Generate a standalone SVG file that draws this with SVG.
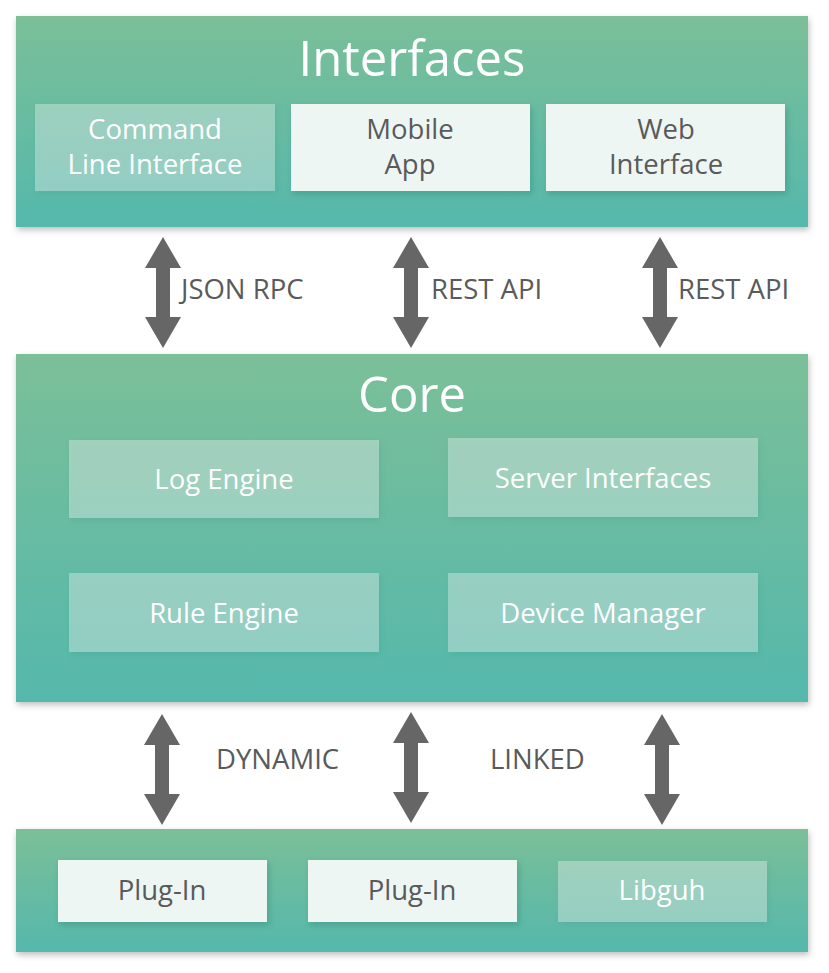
<svg xmlns="http://www.w3.org/2000/svg" width="829" height="973" viewBox="0 0 829 973">
<defs>
<linearGradient id="pg" x1="0" y1="0" x2="0" y2="1">
<stop offset="0" stop-color="#7bbf98"/>
<stop offset="1" stop-color="#55b8ac"/>
</linearGradient>
<filter id="sh" x="-5%" y="-10%" width="110%" height="125%">
<feDropShadow dx="1" dy="3" stdDeviation="3" flood-color="#000" flood-opacity="0.25"/>
</filter>
<filter id="bs" x="-10%" y="-20%" width="120%" height="150%">
<feDropShadow dx="2" dy="3" stdDeviation="3" flood-color="#1d6b5a" flood-opacity="0.3"/>
</filter>
<path id="arr" d="M0,0 L18,31 L7,31 L7,80 L18,80 L0,111 L-18,80 L-7,80 L-7,31 L-18,31 Z"/>
</defs>
<style>
.panel{fill:url(#pg);filter:url(#sh)}
.lb{fill:#ffffff;fill-opacity:0.32;filter:url(#bs)}
.wb{fill:#eef6f4;filter:url(#bs)}
.title{font-family:"Open Sans","Noto Sans",sans-serif;font-size:49px;fill:#ffffff;text-anchor:middle}
.lt{font-family:"Open Sans","Noto Sans",sans-serif;font-size:27.5px;fill:#ffffff;text-anchor:middle}
.dt{font-family:"Open Sans","Noto Sans",sans-serif;font-size:27.5px;fill:#5a5a5a;text-anchor:middle}
.cl{font-family:"Open Sans","Noto Sans",sans-serif;font-size:27.5px;fill:#5a5a5a}
.ar{fill:#666666}
</style>
<rect width="829" height="973" fill="#ffffff"/>

<g id="interfaces">
<rect class="panel" x="16" y="16" width="792" height="211"/>
<text class="title" x="412" y="76">Interfaces</text>
</g>
<g id="cli">
<rect class="lb" x="35" y="104" width="240" height="87"/>
<text class="lt" x="155" y="139">Command</text>
<text class="lt" x="155" y="174">Line Interface</text>
</g>
<g id="mobile">
<rect class="wb" x="291" y="104" width="239" height="87"/>
<text class="dt" x="410" y="139">Mobile</text>
<text class="dt" x="410" y="174">App</text>
</g>
<g id="web">
<rect class="wb" x="546" y="104" width="239" height="87"/>
<text class="dt" x="666" y="139">Web</text>
<text class="dt" x="666" y="174">Interface</text>
</g>

<g id="core">
<rect class="panel" x="16" y="354" width="792" height="348"/>
<text class="title" x="412" y="412">Core</text>
</g>
<g id="log">
<rect class="lb" x="69" y="440" width="310" height="78"/>
<text class="lt" x="224" y="489">Log Engine</text>
</g>
<g id="server">
<rect class="lb" x="448" y="438" width="310" height="79"/>
<text class="lt" x="603" y="488">Server Interfaces</text>
</g>
<g id="rule">
<rect class="lb" x="69" y="573" width="310" height="79"/>
<text class="lt" x="224" y="623">Rule Engine</text>
</g>
<g id="device">
<rect class="lb" x="448" y="573" width="310" height="79"/>
<text class="lt" x="603" y="623">Device Manager</text>
</g>

<g id="plugins">
<rect class="panel" x="16" y="829" width="792" height="123"/>
</g>
<g id="plugin1">
<rect class="wb" x="58" y="860" width="209" height="62"/>
<text class="dt" x="162" y="900">Plug-In</text>
</g>
<g id="plugin2">
<rect class="wb" x="308" y="860" width="209" height="62"/>
<text class="dt" x="412" y="900">Plug-In</text>
</g>
<g id="libguh">
<rect class="lb" x="558" y="861" width="209" height="61"/>
<text class="lt" x="662" y="900">Libguh</text>
</g>

<g id="connectors">
<use href="#arr" class="ar" x="163" y="237"/>
<use href="#arr" class="ar" x="411" y="237"/>
<use href="#arr" class="ar" x="660" y="237"/>
<use href="#arr" class="ar" x="162" y="714"/>
<use href="#arr" class="ar" x="411" y="712"/>
<use href="#arr" class="ar" x="662" y="714"/>
<text class="cl" x="181" y="299">JSON RPC</text>
<text class="cl" x="431" y="299">REST API</text>
<text class="cl" x="678" y="299">REST API</text>
<text class="cl" x="216" y="769">DYNAMIC</text>
<text class="cl" x="490" y="769">LINKED</text>
</g>
</svg>
